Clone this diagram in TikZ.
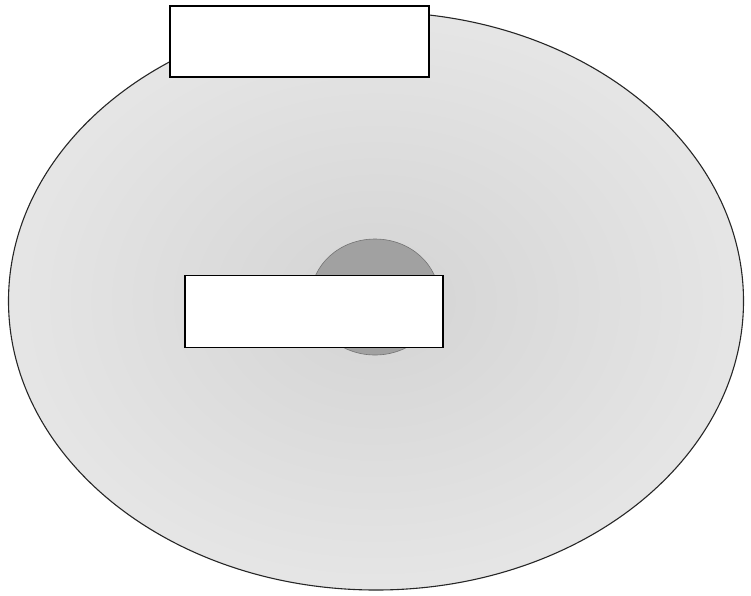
\documentclass[tikz,border=0pt]{standalone}
\usetikzlibrary{shapes.geometric}
\begin{document}
\begin{tikzpicture}[x=1pt,y=-1pt,
  bigoval/.style={ellipse,draw=black!85,line width=1.1pt,inner sep=0pt,
    inner color=black!17,outer color=black!10},
  smalloval/.style={ellipse,draw=black!55,line width=0.6pt,inner sep=0pt,fill=black!37},
  whitebox/.style={rectangle,draw=black,line width=1.3pt,fill=white,inner sep=0pt}]
\useasboundingbox (0,0) rectangle (751,595);
\node[bigoval,minimum width=735pt,minimum height=578pt] (outer) at (376,301) {};
\node[smalloval,minimum width=128pt,minimum height=116pt] (inner) at (375,297) {};
\node[whitebox,minimum width=259pt,minimum height=71pt] (top) at (299.5,41.5) {};
\node[whitebox,minimum width=258pt,minimum height=72pt] (mid) at (314,311.5) {};
\end{tikzpicture}
\end{document}
